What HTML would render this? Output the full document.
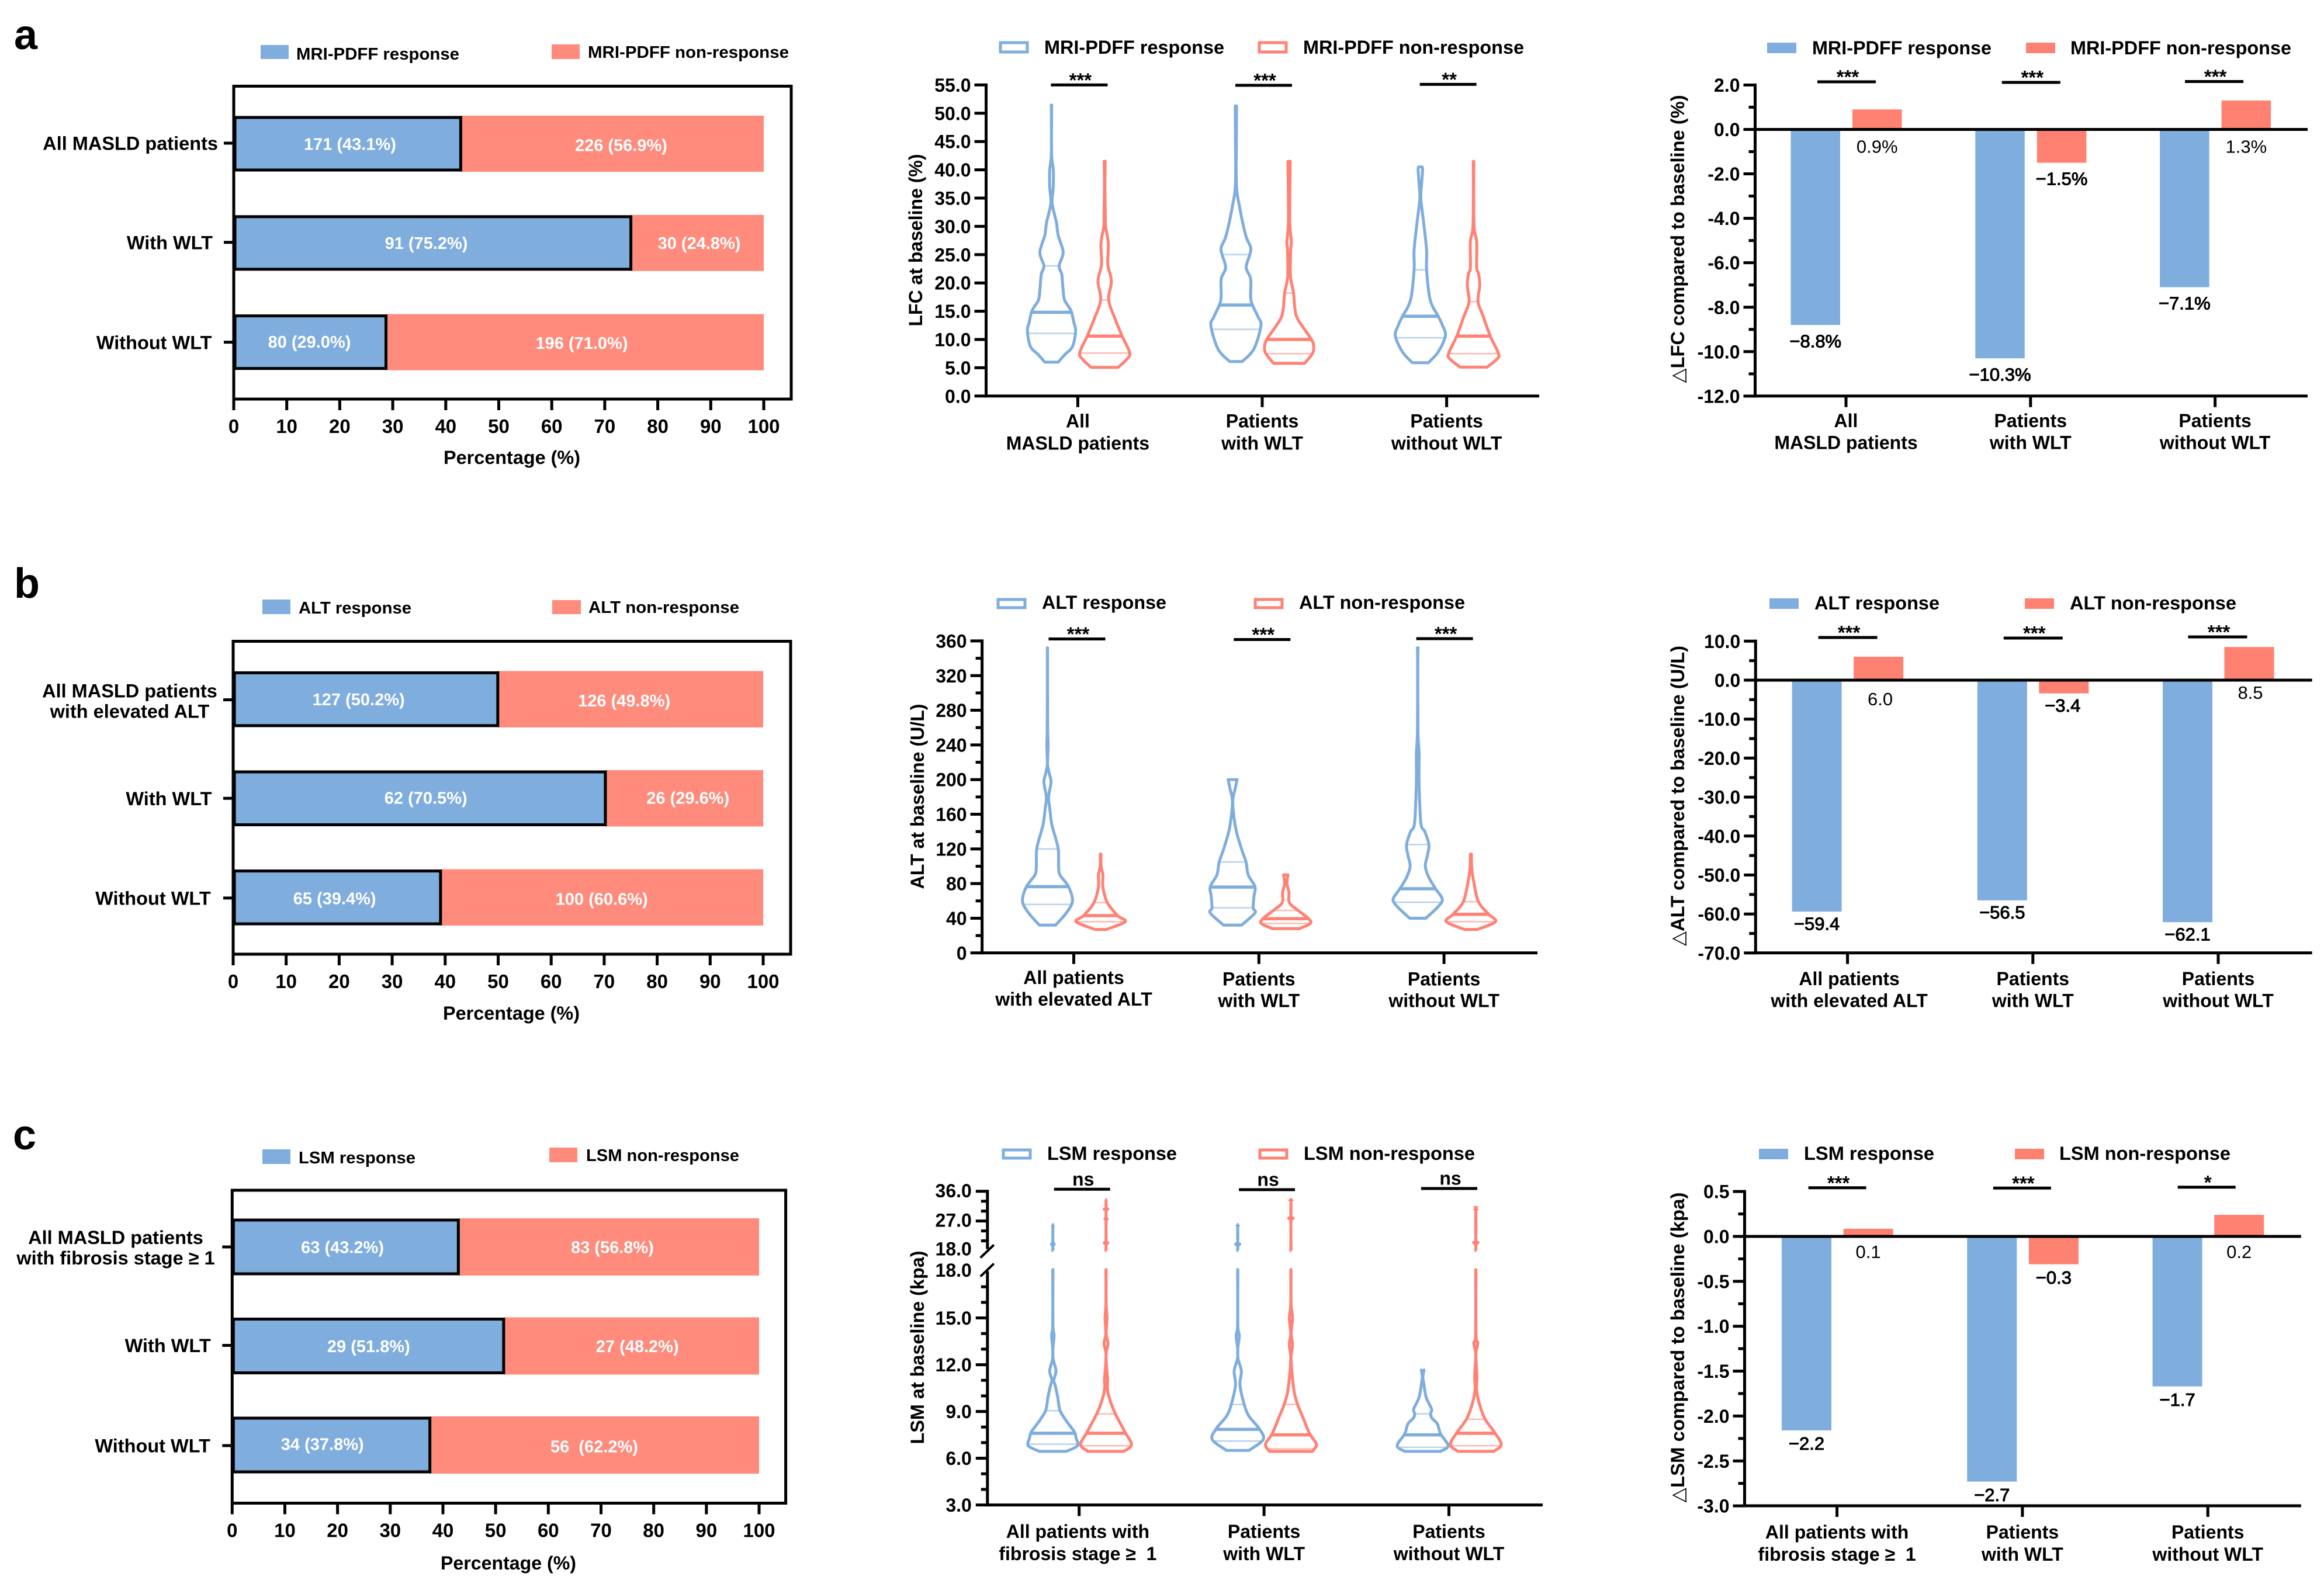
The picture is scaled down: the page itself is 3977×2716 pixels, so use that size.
<!DOCTYPE html>
<html lang="en">
<head>
<meta charset="utf-8">
<title>Response by MRI-PDFF, ALT and LSM</title>
<style>
html,body{margin:0;padding:0;background:#fff;}
svg{display:block;}
text{font-family:"Liberation Sans","DejaVu Sans",sans-serif;font-weight:700;fill:#000;}
</style>
</head>
<body>
<svg id="fig" xmlns="http://www.w3.org/2000/svg" width="3977" height="2716" viewBox="0 0 3977 2716">
<rect x="0" y="0" width="3977" height="2716" fill="#fff"/>

<text x="24" y="84" font-size="72">a</text>
<text x="24" y="1023" font-size="72">b</text>
<text x="22" y="1967" font-size="72">c</text>

<!-- row a legends -->
<rect x="446" y="77" width="48" height="24" fill="#7FADDD"/>
<text x="507" y="102" font-size="29" textLength="279" lengthAdjust="spacingAndGlyphs">MRI-PDFF response</text>
<rect x="944" y="76" width="48" height="25" fill="#FF8B7C"/>
<text x="1006" y="99" font-size="29" textLength="344" lengthAdjust="spacingAndGlyphs">MRI-PDFF non-response</text>
<rect x="1712" y="73" width="46" height="16" fill="none" stroke="#7FADDD" stroke-width="5"/>
<text x="1787" y="92" font-size="32" textLength="308" lengthAdjust="spacingAndGlyphs">MRI-PDFF response</text>
<rect x="2155" y="73" width="46" height="16" fill="none" stroke="#FF8275" stroke-width="5"/>
<text x="2230" y="92" font-size="32" textLength="378" lengthAdjust="spacingAndGlyphs">MRI-PDFF non-response</text>
<rect x="3024" y="73" width="50" height="18" fill="#7FADDD"/>
<text x="3101" y="93" font-size="32" textLength="307" lengthAdjust="spacingAndGlyphs">MRI-PDFF response</text>
<rect x="3467" y="73" width="50" height="18" fill="#FF8172"/>
<text x="3543" y="93" font-size="32" textLength="378" lengthAdjust="spacingAndGlyphs">MRI-PDFF non-response</text>

<!-- row b legends -->
<rect x="449" y="1026" width="48" height="25" fill="#7FADDD"/>
<text x="511" y="1050" font-size="29" textLength="193" lengthAdjust="spacingAndGlyphs">ALT response</text>
<rect x="945" y="1027" width="49" height="24" fill="#FF8B7C"/>
<text x="1007" y="1049" font-size="29" textLength="258" lengthAdjust="spacingAndGlyphs">ALT non-response</text>
<rect x="1708" y="1026" width="46" height="14" fill="none" stroke="#7FADDD" stroke-width="5"/>
<text x="1783" y="1042" font-size="32" textLength="213" lengthAdjust="spacingAndGlyphs">ALT response</text>
<rect x="2148" y="1026" width="46" height="14" fill="none" stroke="#FF8275" stroke-width="5"/>
<text x="2223" y="1042" font-size="32" textLength="284" lengthAdjust="spacingAndGlyphs">ALT non-response</text>
<rect x="3028" y="1024" width="50" height="18" fill="#7FADDD"/>
<text x="3105" y="1043" font-size="32" textLength="214" lengthAdjust="spacingAndGlyphs">ALT response</text>
<rect x="3465" y="1024" width="50" height="18" fill="#FF8172"/>
<text x="3542" y="1043" font-size="32" textLength="285" lengthAdjust="spacingAndGlyphs">ALT non-response</text>

<!-- row c legends -->
<rect x="449" y="1967" width="48" height="25" fill="#7FADDD"/>
<text x="511" y="1991" font-size="29" textLength="200" lengthAdjust="spacingAndGlyphs">LSM response</text>
<rect x="940" y="1964" width="48" height="25" fill="#FF8B7C"/>
<text x="1003" y="1987" font-size="29" textLength="262" lengthAdjust="spacingAndGlyphs">LSM non-response</text>
<rect x="1717" y="1968" width="46" height="14" fill="none" stroke="#7FADDD" stroke-width="5"/>
<text x="1792" y="1985" font-size="32" textLength="222" lengthAdjust="spacingAndGlyphs">LSM response</text>
<rect x="2156" y="1968" width="46" height="14" fill="none" stroke="#FF8275" stroke-width="5"/>
<text x="2231" y="1985" font-size="32" textLength="293" lengthAdjust="spacingAndGlyphs">LSM non-response</text>
<rect x="3010" y="1966" width="50" height="18" fill="#7FADDD"/>
<text x="3087" y="1985" font-size="32" textLength="223" lengthAdjust="spacingAndGlyphs">LSM response</text>
<rect x="3448" y="1966" width="50" height="18" fill="#FF8172"/>
<text x="3524" y="1985" font-size="32" textLength="293" lengthAdjust="spacingAndGlyphs">LSM non-response</text>

<!-- axis titles -->
<text x="876" y="794" font-size="32" text-anchor="middle" textLength="234" lengthAdjust="spacingAndGlyphs">Percentage (%)</text>
<text x="875" y="1745" font-size="32" text-anchor="middle" textLength="234" lengthAdjust="spacingAndGlyphs">Percentage (%)</text>
<text x="870" y="2686" font-size="32" text-anchor="middle" textLength="232" lengthAdjust="spacingAndGlyphs">Percentage (%)</text>

<text transform="translate(1578 411) rotate(-90)" font-size="32" text-anchor="middle" textLength="295" lengthAdjust="spacingAndGlyphs">LFC at baseline (%)</text>
<text transform="translate(1581 1363) rotate(-90)" font-size="32" text-anchor="middle" textLength="317" lengthAdjust="spacingAndGlyphs">ALT at baseline (U/L)</text>
<text transform="translate(1581 2306) rotate(-90)" font-size="32" text-anchor="middle" textLength="331" lengthAdjust="spacingAndGlyphs">LSM at baseline (kpa)</text>
<text transform="translate(2882 409) rotate(-90)" font-size="32" text-anchor="middle" textLength="493" lengthAdjust="spacingAndGlyphs">△LFC compared to baseline (%)</text>
<text transform="translate(2882 1362) rotate(-90)" font-size="32" text-anchor="middle" textLength="514" lengthAdjust="spacingAndGlyphs">△ALT compared to baseline (U/L)</text>
<text transform="translate(2882 2306) rotate(-90)" font-size="32" text-anchor="middle" textLength="531" lengthAdjust="spacingAndGlyphs">△LSM compared to baseline (kpa)</text>

<g id="charts"></g>
</svg>

<script>
/* ---------- stacked percentage bars ---------- */
const pctTicks = [0,10,20,30,40,50,60,70,80,90,100];

const stackCategoriesA = ['All MASLD patients','With WLT','Without WLT'];
const stackRespPctA = [43.1,75.2,29.0];
const stackRespTextA = ['171 (43.1%)','91 (75.2%)','80 (29.0%)'];
const stackNonTextA = ['226 (56.9%)','30 (24.8%)','196 (71.0%)'];

const stackCategoriesB = ['All MASLD patients\nwith elevated ALT','With WLT','Without WLT'];
const stackRespPctB = [50.2,70.5,39.4];
const stackRespTextB = ['127 (50.2%)','62 (70.5%)','65 (39.4%)'];
const stackNonTextB = ['126 (49.8%)','26 (29.6%)','100 (60.6%)'];

const stackCategoriesC = ['All MASLD patients\nwith fibrosis stage ≥ 1','With WLT','Without WLT'];
const stackRespPctC = [43.2,51.8,37.8];
const stackRespTextC = ['63 (43.2%)','29 (51.8%)','34 (37.8%)'];
const stackNonTextC = ['83 (56.8%)','27 (48.2%)','56\u00A0 (62.2%)'];

/* ---------- violin baseline charts: [value, density] outline samples ---------- */
const lfcTicks = [0,5,10,15,20,25,30,35,40,45,50,55];
const lfcCategories = ['All\nMASLD patients','Patients\nwith WLT','Patients\nwithout WLT'];
const lfcSig = ['***','***','**'];
const lfcRespAll = [[6,15],[7.35,30],[8.75,47],[11.5,54],[13,50],[14.8,45],[15.6,40],[17,29],[18.7,26],[21.5,23],[23,17],[25.4,26],[28.4,15],[30.7,11],[34.1,1.5],[37,4],[40,4],[42.8,0.3],[50.5,0.3],[51.4,0.6]];
const lfcNonAll = [[5.07,30],[6.3,47],[7.6,56],[10.6,39],[13.5,24],[17,9],[20.3,15],[23.2,7],[25.6,8],[27.3,8],[30,2],[32,1.5],[37,0.5],[41,1],[41.5,1]];
const lfcRespWith = [[6.1,14],[8.3,40],[12.4,56],[13.9,50],[16.1,37],[17.6,33],[20.7,33],[22.7,23],[25,31],[26.3,33],[28.4,22],[33.5,8],[37.6,1],[46,1],[51.3,1.5]];
const lfcNonWith = [[5.8,35],[7.5,52],[8.6,55],[10,50],[13.5,20],[15.5,13],[18.2,10],[21.2,3],[25.8,3.5],[27.3,5],[31,1.5],[41.5,2.5]];
const lfcRespWithout = [[5.9,18],[7.8,40],[10.6,56],[12.4,50],[14.1,40],[17,22],[22.3,14],[25.8,14],[30.9,7],[35,1],[37.7,3],[40,5],[40.5,4]];
const lfcNonWithout = [[5.1,30],[6.5,52],[7.5,56],[10.5,38],[14,22],[16.7,10],[19.6,14],[21.7,11],[22.7,7],[27.3,7],[30.4,1],[41.5,0.5]];
const lfcQuartiles = [[11.07,14.8,23],[7.6,10.6,17],[11.8,16.1,25],[7.5,10,18.2],[10.3,14.1,22.3],[7.5,10.6,16.7]];

const altTicks = [0,40,80,120,160,200,240,280,320,360];
const altCategories = ['All patients\nwith elevated ALT','Patients\nwith WLT','Patients\nwithout WLT'];
const altSig = ['***','***','***'];
const altRespAll = [[32,18],[46,42],[60,56],[76.5,47],[90,28],[100,25],[120,24],[140,14],[150,9],[167,5],[180,2.5],[197,8],[207,4],[217,0.3],[225,0.5],[240,1.5],[258,0.5],[300,0.3],[352,0.3]];
const altNonAll = [[27,12],[36,55],[43,38],[58,15],[76,5],[90,5],[100,1],[114,0.8]];
const altRespWith = [[32,20],[46,50],[52,46],[66,48],[76.5,50],[90,35],[105,30],[120,20],[143.6,7],[174,0.3],[190,6],[200,10]];
const altNonWith = [[28,30],[34,55],[40,50],[50,25],[58,8],[70,7],[80,2.5],[90,5]];
const altRespWithout = [[40,18],[53,45],[62,55],[74,40],[87,25],[100,17],[113,22],[125,25],[140,16],[150,7],[197,3],[230,3],[258,0.5],[340,0.3],[352,1]];
const altNonWithout = [[27,14],[36,55],[44.6,40],[59,17],[83,6],[97,2],[114,1]];
const altQuartiles = [[56,76.5,120],[36,43,58],[52,76,105],[34,39.5,49],[58.5,74,125],[36,44.5,59]];

const lsmLowerTicks = [15,12,9,6,3];
const lsmLowerMinor = [17,16,14,13,11,10,8,7,5,4];
const lsmUpperTicks = [36,27];
const lsmUpperMinor = [33,30,24,21];
const lsmBreakLabels = ['18.0','18.0'];
const lsmCategories = ['All patients with\nfibrosis stage ≥\u00A0 1','Patients\nwith WLT','Patients\nwithout WLT'];
const lsmSig = ['ns','ns','ns'];
const lsmRespAll = [[6.44,30],[6.8,55],[7.3,52],[7.7,48],[8.4,30],[9.07,16],[9.9,11],[10.7,5],[11,2],[11.6,7],[12.4,0.5],[13.1,0.4],[13.9,2.8],[14.6,0.3],[18.1,0.3]];
const lsmNonAll = [[6.44,40],[6.87,57],[7.7,42],[8.9,20],[9.9,7],[10.5,3],[11,3.5],[11.6,2],[12.2,0.4],[12.8,0.4],[13.36,4.5],[14,0.4],[15,2.2],[15.9,0.3],[18.1,0.3]];
const lsmRespWith = [[6.5,25],[7.2,57],[7.9,48],[8.7,25],[9.5,14],[10.7,5],[11.6,8],[12.4,0.5],[13.1,0.4],[13.86,3.5],[14.6,0.3],[18.1,0.3]];
const lsmNonWith = [[6.44,48],[6.9,57],[7.57,42],[8.6,27],[9.45,15],[10.3,7],[11.6,2],[12.5,0.4],[13.3,3.5],[14,0.4],[15,3.5],[15.9,0.4],[18.1,0.3]];
const lsmRespWithout = [[6.44,40],[6.8,57],[7.57,40],[8.2,33],[8.6,20],[8.88,18],[9.16,20],[9.9,8],[10.8,2.5],[11.2,0.5],[11.66,3]];
const lsmNonWithout = [[6.44,40],[6.87,57],[7.66,42],[8.55,20],[9.7,6],[10.5,1.5],[11.2,2.5],[12.4,0.3],[12.8,0.4],[13.4,4.5],[14,0.4],[18.1,0.3]];
const lsmRespAllUpper = [[18,0.3],[19.4,0.3],[20,3],[20.6,0.3],[25.4,0.3],[25.9,2.2]];
const lsmNonAllUpper = [[18,0.3],[19.9,0.3],[20.4,4],[20.9,0.3],[27.2,0.3],[27.6,2.5],[28,0.3],[30.2,0.3],[30.6,4],[31,0.3],[33.2,0.3],[33.4,2]];
const lsmRespWithUpper = [[18,0.3],[19.4,0.3],[20,4.5],[20.6,0.3],[25.4,0.3],[25.9,3.5]];
const lsmNonWithUpper = [[18,0.3],[27,0.3],[27.8,5],[28.6,0.3],[33,0.3],[33.5,4.5]];
const lsmNonWithoutUpper = [[18,0.3],[20,0.3],[20.5,5],[21,0.3],[30.3,0.3],[30.7,5]];
const lsmQuartiles = [[6.9,7.6,9.05],[6.8,7.6,8.85],[7.1,7.85,9.45],[6.6,7.5,9.45],[6.7,7.5,8.85],[6.8,7.6,8.5]];

/* ---------- change-from-baseline bars ---------- */
const dLfcTicks = [2,0,-2,-4,-6,-8,-10,-12];
const dLfcTickText = ['2.0','0.0','-2.0','-4.0','-6.0','-8.0','-10.0','-12.0'];
const dLfcResp = [-8.8,-10.3,-7.1];
const dLfcNon = [0.9,-1.5,1.3];
const dLfcRespText = ['−8.8%','−10.3%','−7.1%'];
const dLfcNonText = ['0.9%','−1.5%','1.3%'];
const dLfcSig = ['***','***','***'];

const dAltTicks = [10,0,-10,-20,-30,-40,-50,-60,-70];
const dAltTickText = ['10.0','0.0','-10.0','-20.0','-30.0','-40.0','-50.0','-60.0','-70.0'];
const dAltResp = [-59.4,-56.5,-62.1];
const dAltNon = [6.0,-3.4,8.5];
const dAltRespText = ['−59.4','−56.5','−62.1'];
const dAltNonText = ['6.0','−3.4','8.5'];
const dAltSig = ['***','***','***'];

const dLsmTicks = [0.5,0,-0.5,-1,-1.5,-2,-2.5,-3];
const dLsmTickText = ['0.5','0.0','-0.5','-1.0','-1.5','-2.0','-2.5','-3.0'];
const dLsmResp = [-2.16,-2.73,-1.67];
const dLsmNon = [0.085,-0.31,0.24];
const dLsmRespText = ['−2.2','−2.7','−1.7'];
const dLsmNonText = ['0.1','−0.3','0.2'];
const dLsmSig = ['***','***','*'];

/* ---------- drawing helpers ---------- */
const BLUE = '#7FADDD', RED_L = '#FF8B7C', RED_V = '#FF8275', RED_R = '#FF8172';
const NS = 'http://www.w3.org/2000/svg';
const root = document.getElementById('charts');

function mk(tag, attrs, name, parent) {
  const el = document.createElementNS(NS, tag);
  for (const k in attrs) el.setAttribute(k, attrs[k]);
  
  
  (parent || root).appendChild(el);
  return el;
}
function line(x1, y1, x2, y2, name, parent, w, col) {
  return mk('line', {x1:x1, y1:y1, x2:x2, y2:y2, stroke:col || '#000', 'stroke-width':w || 5}, name, parent);
}
function text(str, x, cy, size, anchor, name, parent, opts) {
  const o = opts || {};
  const attrs = {x:x, y:cy + size * 0.36, 'font-size':size, 'text-anchor':anchor};
  if (o.fill) attrs.style = 'fill:' + o.fill;
  if (o.regular) attrs.style = (attrs.style ? attrs.style + ';' : '') + 'font-weight:400';
  if (o.stroke) { attrs.stroke = '#000'; attrs['stroke-width'] = o.stroke; }
  const el = mk('text', attrs, name, parent);
  el.textContent = str;
  return el;
}
function smooth(pts) {
  let d = '';
  for (let i = 0; i < pts.length - 1; i++) {
    const p0 = pts[Math.max(0, i - 1)], p1 = pts[i], p2 = pts[i + 1], p3 = pts[Math.min(pts.length - 1, i + 2)];
    const c1 = [p1[0] + (p2[0] - p0[0]) / 6, p1[1] + (p2[1] - p0[1]) / 6];
    const c2 = [p2[0] - (p3[0] - p1[0]) / 6, p2[1] - (p3[1] - p1[1]) / 6];
    d += ' C' + c1[0].toFixed(1) + ' ' + c1[1].toFixed(1) + ' ' + c2[0].toFixed(1) + ' ' + c2[1].toFixed(1) + ' ' + p2[0].toFixed(1) + ' ' + p2[1].toFixed(1);
  }
  return d;
}
function densityAt(series, v) {
  for (let i = 0; i < series.length - 1; i++) {
    if (v >= series[i][0] && v <= series[i + 1][0]) {
      const t = (v - series[i][0]) / (series[i + 1][0] - series[i][0]);
      return series[i][1] + t * (series[i + 1][1] - series[i][1]);
    }
  }
  return series[0][1];
}
const halfWidth = d => d * 0.765;

function violinPath(series, cx, y, open, name, parent, col, cap) {
  const right = series.map(p => [cx + halfWidth(p[1]), y(p[0])]);
  const left = series.map(p => [cx - halfWidth(p[1]), y(p[0])]).reverse();
  let d = 'M' + right[0][0].toFixed(1) + ' ' + right[0][1].toFixed(1) + smooth(right);
  d += open ? ' M' + left[0][0].toFixed(1) + ' ' + left[0][1].toFixed(1) : ' L' + left[0][0].toFixed(1) + ' ' + left[0][1].toFixed(1);
  d += smooth(left);
  d += open === 'top' ? ' L' + right[0][0].toFixed(1) + ' ' + right[0][1].toFixed(1) : (open ? '' : ' Z');
  mk('path', {d:d, fill:'none', stroke:col, 'stroke-width':5, 'stroke-linejoin':'round', 'stroke-linecap':cap || 'round'}, name, parent);
}

function drawCategoryLabels(cats, groupX, c, g) {
  cats.forEach((label, i) => {
    label.split('\n').forEach((ln, j) => {
      text(ln, groupX(i) + (c.catDx ? c.catDx[i] : 0), (j ? c.catY2 : c.catY1) + (c.catDy ? c.catDy[i] : 0), 32, 'middle', 'x-category-label', g);
    });
  });
}
function drawSig(sig, groupX, c, g) {
  sig.forEach((s, i) => {
    const dx = c.brDx ? c.brDx[i] : 0;
    const x1 = groupX(i) + c.brLeft + dx, x2 = groupX(i) + c.brRight + dx;
    const y = c.brY[i];
    line(x1, y, x2, y, 'significance-bracket', g);
    const el = mk('text', {x:(x1 + x2) / 2 + 2, y:y + (s === 'ns' ? -6.5 : 3), 'font-size':s === 'ns' ? 32 : 33, 'text-anchor':'middle'}, 'significance-label', g);
    el.textContent = s;
  });
}

/* ---------- stacked chart ---------- */
function drawStack(c, cats, resp, respText, nonText) {
  const g = mk('g', {}, c.name);
  const x = v => c.x0 + v * c.k;
  const rowTop = i => c.top0 + i * c.step;
  const rowMid = i => rowTop(i) + c.h / 2;
  resp.forEach((v, i) => {
    mk('rect', {x:x(v) - 3, y:rowTop(i), width:x(100) - x(v) + 3, height:c.h, fill:RED_L}, 'bar-non-response', g);
    mk('rect', {x:x(0) + 2, y:rowTop(i) + 3, width:x(v) - x(0) - 4.5, height:c.h - 6, fill:BLUE, stroke:'#000', 'stroke-width':5}, 'bar-response', g);
    text(respText[i], (x(0) + x(v)) / 2 + c.respDx[i], rowMid(i) + c.respDy[i], 29, 'middle', 'bar-label-response', g, {fill:'#fff'});
    text(nonText[i], (x(v) + x(100)) / 2 + c.nonDx[i], rowMid(i) + c.nonDy[i], 29, 'middle', 'bar-label-non-response', g, {fill:'#fff'});
    line(c.x0 - 17, rowMid(i) + c.tickDy[i], c.x0, rowMid(i) + c.tickDy[i], 'y-tick', g);
    const lines = cats[i].split('\n');
    if (lines.length > 1) {
      lines.forEach((ln, j) => text(ln, c.catCx, rowMid(i) + (j ? 17.4 : -17.4) + c.catMidDy, 32.5, 'middle', 'y-category-label', g));
    } else {
      text(lines[0], c.catRight[i], rowMid(i) + c.tickDy[i], 32.5, 'end', 'y-category-label', g);
    }
  });
  mk('rect', {x:c.x0, y:c.top, width:c.right - c.x0, height:c.bottom - c.top, fill:'none', stroke:'#000', 'stroke-width':5}, 'plot-frame', g);
  pctTicks.forEach(t => {
    line(x(t), c.bottom, x(t), c.bottom + 19, 'x-tick', g);
    text(String(t), x(t), c.bottom + 46, 33, 'middle', 'x-tick-label', g);
  });
}

/* ---------- violin chart axes ---------- */
function drawViolins(c, series, quart, cats, sig, y) {
  const g = mk('g', {}, c.name);
  const groupX = i => c.g0 + i * c.gStep;
  const vx = i => groupX(Math.floor(i / 2)) + (i % 2 ? 46 : -45);
  series.forEach((s, i) => {
    const col = i % 2 ? RED_V : BLUE;
    const side = i % 2 ? 'non-response' : 'response';
    violinPath(s, vx(i), y, c.openTop ? 'top' : false, 'violin-' + side, g, col);
    quart[i].forEach((q, j) => {
      const hw = halfWidth(densityAt(s, q));
      if (j === 1) {
        line(vx(i) - hw, y(q), vx(i) + hw, y(q), 'violin-median-' + side, g, 5.5, col);
      } else {
        line(vx(i) - hw, y(q), vx(i) + hw, y(q), 'violin-quartile-' + side, g, 2.5, col).setAttribute('stroke-opacity', '0.55');
      }
    });
  });
  line(c.x0, c.yBottom, c.xEnd, c.yBottom, 'x-axis', g);
  for (let i = 0; i < cats.length; i++) {
    line(groupX(i), c.yBottom, groupX(i), c.yBottom + 19, 'x-tick', g);
  }
  drawCategoryLabels(cats, groupX, c, g);
  drawSig(sig, groupX, c, g);
  return {g:g, groupX:groupX, vx:vx};
}
function yAxis(c, g, ticks, y, fmt, minorStep) {
  line(c.x0, y(ticks[0]) - 2.5, c.x0, c.yBottom + 2.5, 'y-axis', g);
  ticks.forEach(t => {
    line(c.x0 - 20, y(t), c.x0, y(t), 'y-tick', g);
    text(fmt(t), c.x0 - 26, y(t), 32, 'end', 'y-tick-label', g);
  });
  if (minorStep) {
    const lo = Math.min.apply(null, ticks), hi = Math.max.apply(null, ticks);
    for (let v = lo + minorStep; v < hi; v += 2 * minorStep) {
      line(c.x0 - 11, y(v), c.x0, y(v), 'y-minor-tick', g);
    }
  }
}

/* ---------- change chart ---------- */
function drawChange(c, resp, non, respText, nonText, ticks, tickText, cats, sig) {
  const g = mk('g', {}, c.name);
  const y = v => c.yZero - v * c.k;
  const groupX = i => c.g0 + i * c.gStep;
  resp.forEach((v, i) => {
    mk('rect', {x:groupX(i) + c.respOff, y:y(0), width:c.bw, height:y(v) - y(0), fill:BLUE}, 'bar-response', g);
    text(respText[i], groupX(i) + c.respOff + c.bw / 2, y(v) + c.negDy, 31, 'middle', 'value-label-response', g, {regular:true, stroke:1});
    const n = non[i];
    mk('rect', {x:groupX(i) + c.nonOff, y:Math.min(y(n), y(0)), width:c.bw, height:Math.abs(y(n) - y(0)), fill:RED_R}, 'bar-non-response', g);
    const neg = n < 0;
    text(nonText[i], groupX(i) + c.nonOff + c.bw / 2 + (c.nonDx ? c.nonDx[i] : 0), (neg ? y(n) + c.negDy : y(0) + c.posDy) + (c.nonDy ? c.nonDy[i] : 0), 31, 'middle', 'value-label-non-response', g, neg ? {regular:true, stroke:1} : {regular:true});
  });
  line(c.x0, y(0), c.xEnd, y(0), 'zero-line', g);
  line(c.x0, c.yBottom, c.xEnd, c.yBottom, 'x-axis', g);
  line(c.x0, y(ticks[0]) - 2.5, c.x0, c.yBottom + 2.5, 'y-axis', g);
  ticks.forEach((t, i) => {
    line(c.x0 - 20, y(t), c.x0, y(t), 'y-tick', g);
    text(tickText[i], c.x0 - 26, y(t), 32, 'end', 'y-tick-label', g);
    if (i < ticks.length - 1) {
      const mid = (t + ticks[i + 1]) / 2;
      line(c.x0 - 11, y(mid), c.x0, y(mid), 'y-minor-tick', g);
    }
  });
  for (let i = 0; i < cats.length; i++) {
    line(groupX(i), c.yBottom, groupX(i), c.yBottom + 19, 'x-tick', g);
  }
  drawCategoryLabels(cats, groupX, c, g);
  drawSig(sig, groupX, c, g);
}

/* ---------- left column ---------- */
drawStack({name:'stacked-chart-mri-pdff', x0:400, k:9.07, right:1354, top:147.5, bottom:683, top0:198, step:169.8, h:96,
  respDx:[3.5,-11.5,-2], respDy:[0,0,-1], nonDx:[14,2,10.5], nonDy:[2,0,1], tickDy:[-1,-1,0], catRight:[373,364,362.5], catCx:222, catMidDy:0},
  stackCategoriesA, stackRespPctA, stackRespTextA, stackNonTextA);
drawStack({name:'stacked-chart-alt', x0:399, k:9.07, right:1353, top:1097.5, bottom:1633, top0:1148.4, step:169.6, h:96.5,
  respDx:[-13,10,-5], respDy:[0,-1,1], nonDx:[-12,5,-1.5], nonDy:[2,-1,2], tickDy:[1,0,1], catRight:[373,362.5,360.7], catCx:222, catMidDy:2.7},
  stackCategoriesB, stackRespPctB, stackRespTextB, stackNonTextB);
drawStack({name:'stacked-chart-lsm', x0:397.3, k:9.017, right:1344.6, top:2037, bottom:2572.5, top0:2085, step:169.5, h:98,
  respDx:[-6,0,-16], respDy:[0,0,-2], nonDx:[5,9,-1.6], nonDy:[0,0,2], tickDy:[0,-1,1], catRight:[373,360.7,360], catCx:198, catMidDy:0.7},
  stackCategoriesC, stackRespPctC, stackRespTextC, stackNonTextC);

/* ---------- middle column ---------- */
const lfcY = v => 677.8 - v * 9.68;
const lfcCfg = {name:'violin-chart-lfc', x0:1687.5, xEnd:2634, yBottom:677.8, g0:1844.4, gStep:315.6,
  catY1:720, catY2:758, brLeft:-46, brRight:51, brY:[145.4,146,144.4]};
const lfcDraw = drawViolins(lfcCfg, [lfcRespAll,lfcNonAll,lfcRespWith,lfcNonWith,lfcRespWithout,lfcNonWithout], lfcQuartiles, lfcCategories, lfcSig, lfcY);
yAxis(lfcCfg, lfcDraw.g, lfcTicks.slice().reverse(), lfcY, t => t.toFixed(1));

const altY = v => 1630.8 - v * 1.483;
const altCfg = {name:'violin-chart-alt', x0:1680.6, xEnd:2631, yBottom:1630.8, g0:1837.5, gStep:316.8,
  catY1:1675, catY2:1712, catDy:[-2.5,0,0], brLeft:-43, brRight:54, brDx:[0,0,-4.5], brY:[1093.5,1094.5,1093]};
const altDraw = drawViolins(altCfg, [altRespAll,altNonAll,altRespWith,altNonWith,altRespWithout,altNonWithout], altQuartiles, altCategories, altSig, altY);
yAxis(altCfg, altDraw.g, altTicks.slice().reverse(), altY, t => String(t), 20);

const lsmY = v => 2575.6 - (v - 3) * 26.67;
const lsmUpperY = v => 2038.8 + (36 - v) * 5.65;
const lsmCfg = {name:'violin-chart-lsm', x0:1689.8, xEnd:2640, yBottom:2575.6, g0:1846.7, gStep:316.4,
  catY1:2620.7, catY2:2658.3, catDx:[-2.3,0,0], brLeft:-43, brRight:53, brDx:[0,0,-4.5], brY:[2035.3,2036,2034], openTop:true};
const lsmDraw = drawViolins(lsmCfg, [lsmRespAll,lsmNonAll,lsmRespWith,lsmNonWith,lsmRespWithout,lsmNonWithout], lsmQuartiles, lsmCategories, lsmSig, lsmY);
[lsmRespAllUpper,lsmNonAllUpper,lsmRespWithUpper,lsmNonWithUpper,null,lsmNonWithoutUpper].forEach((s, i) => {
  if (!s) return;
  violinPath(s, lsmDraw.vx(i), lsmUpperY, 'top', 'violin-upper-segment', lsmDraw.g, i % 2 ? RED_V : BLUE, 'butt');
});
(function () {
  const c = lsmCfg, g = lsmDraw.g;
  line(c.x0, 2036.3, c.x0, lsmUpperY(18) - 3, 'y-axis-upper', g);
  line(c.x0, lsmY(18), c.x0, c.yBottom + 2.5, 'y-axis-lower', g);
  lsmUpperTicks.forEach(t => {
    line(c.x0 - 20, lsmUpperY(t), c.x0, lsmUpperY(t), 'y-tick', g);
    text(t.toFixed(1), c.x0 - 27, lsmUpperY(t) - 1.5, 32, 'end', 'y-tick-label', g);
  });
  lsmUpperMinor.forEach(t => line(c.x0 - 11, lsmUpperY(t), c.x0, lsmUpperY(t), 'y-minor-tick', g));
  lsmLowerTicks.forEach(t => {
    line(c.x0 - 20, lsmY(t), c.x0, lsmY(t), 'y-tick', g);
    text(t.toFixed(1), c.x0 - 27, lsmY(t), 32, 'end', 'y-tick-label', g);
  });
  lsmLowerMinor.forEach(t => line(c.x0 - 11, lsmY(t), c.x0, lsmY(t), 'y-minor-tick', g));
  text(lsmBreakLabels[0], c.x0 - 27, lsmUpperY(18) - 3.5, 32, 'end', 'y-tick-label', g);
  text(lsmBreakLabels[1], c.x0 - 27, lsmY(18) - 2, 32, 'end', 'y-tick-label', g);
  line(c.x0 - 12, lsmUpperY(18) + 12, c.x0 + 11, lsmUpperY(18) - 10, 'axis-break-mark', g, 4);
  line(c.x0 - 12, lsmY(18) + 9, c.x0 + 11, lsmY(18) - 13, 'axis-break-mark', g, 4);
})();

/* ---------- right column ---------- */
drawChange({name:'change-chart-lfc', x0:3003.5, xEnd:3949, yZero:221.5, k:38.03, yBottom:677.8, g0:3159, gStep:315.8,
  respOff:-94.5, nonOff:11, bw:84.5, negDy:27, posDy:29, catY1:719.5, catY2:757, brLeft:-49, brRight:51, brDx:[0,0,-2.5], brY:[140,141,139.5]},
  dLfcResp, dLfcNon, dLfcRespText, dLfcNonText, dLfcTicks, dLfcTickText, lfcCategories, dLfcSig);
drawChange({name:'change-chart-alt', x0:3004.3, xEnd:3956.6, yZero:1164, k:6.67, yBottom:1630.8, g0:3161.6, gStep:317.2,
  respOff:-95, nonOff:10.5, bw:85, negDy:20, posDy:27, nonDx:[3,-2,2], nonDy:[5,0,-6], catY1:1674.6, catY2:1712, catDx:[3,0,0], brLeft:-50, brRight:51, brDx:[0,0,-1.5], brY:[1091,1092,1090]},
  dAltResp, dAltNon, dAltRespText, dAltNonText, dAltTicks, dAltTickText, altCategories, dAltSig);
drawChange({name:'change-chart-lsm', x0:2985.5, xEnd:3937.8, yZero:2116, k:153.7, yBottom:2577, g0:3143.6, gStep:317.3,
  respOff:-94.6, nonOff:11, bw:85, negDy:22, posDy:26, catY1:2621.7, catY2:2659.3, brLeft:-49, brRight:50, brDx:[0,-1,-2.5], brY:[2032.8,2033.3,2031.8]},
  dLsmResp, dLsmNon, dLsmRespText, dLsmNonText, dLsmTicks, dLsmTickText, lsmCategories, dLsmSig);
</script>
</body>
</html>
